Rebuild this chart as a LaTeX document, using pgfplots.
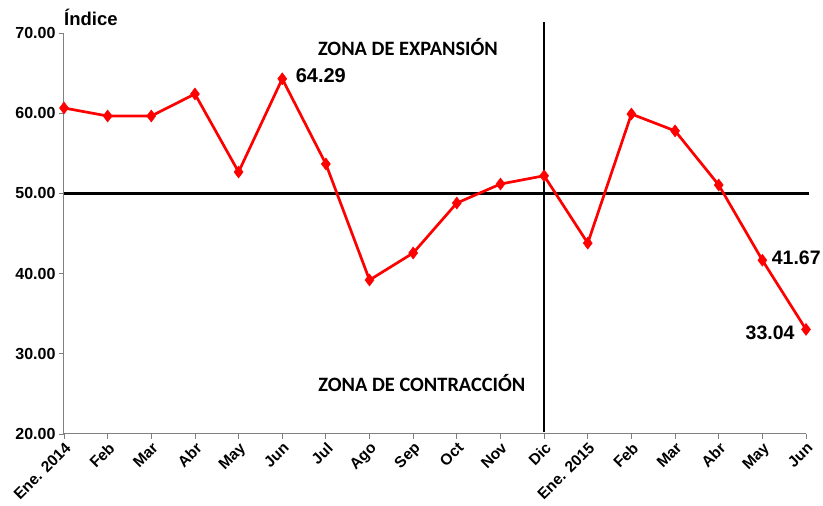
\documentclass[border=0pt]{standalone}
\usepackage{pgfplots}
\pgfplotsset{compat=1.18}
\usepackage{fontspec}
\setmainfont{Liberation Sans}
\newfontfamily\calibri{Carlito}
\begin{document}
\begin{tikzpicture}
\useasboundingbox (-64pt,-72pt) rectangle (759pt,434pt);
\begin{axis}[
  scale only axis, width=742pt, height=401pt,
  xmin=0, xmax=17, ymin=20, ymax=70,
  axis x line*=bottom, axis y line*=left,
  axis line style={draw=gray, line width=1pt},
  xtick={0,...,17},
  xticklabels={Ene. 2014,Feb,Mar,Abr,May,Jun,Jul,Ago,Sep,Oct,Nov,Dic,Ene. 2015,Feb,Mar,Abr,May,Jun},
  x tick label style={rotate=45, anchor=north east, font=\fontsize{15.5}{17}\selectfont\bfseries, inner sep=1.5pt},
  ytick={20,30,...,70},
  y tick label style={font=\fontsize{16}{18}\selectfont\bfseries},
  yticklabel style={/pgf/number format/.cd, fixed, fixed zerofill, precision=2, assume math mode=true},
  tick align=outside, major tick length=5pt,
  tick style={gray, line width=0.8pt},
  clip=false,
]
\addplot[black, line width=2.5pt] coordinates {(0,50) (17.07,50)};
\addplot[black, line width=1.5pt] coordinates {(11,20.2) (11,71.4)};
\addplot[red, line width=2.7pt, mark=diamond*, mark size=6pt, mark options={solid, fill=red, draw=red, line width=0.5pt}]
 coordinates {
 (0,60.65) (1,59.65) (2,59.65) (3,62.4) (4,52.67) (5,64.29) (6,53.67) (7,39.2) (8,42.57) (9,48.8) (10,51.17) (11,52.2)
 (12,43.8) (13,59.9) (14,57.8) (15,51.05) (16,41.67) (17,33.04)
 };
\node[anchor=west, font=\fontsize{20}{22}\selectfont\bfseries, xshift=10pt, yshift=3pt] at (axis cs:5,64.29) {64.29};
\node[anchor=west, font=\fontsize{19.5}{22}\selectfont\bfseries, xshift=6pt, yshift=2pt] at (axis cs:16,41.67) {41.67};
\node[anchor=east, font=\fontsize{19.5}{22}\selectfont\bfseries, xshift=-8pt, yshift=-3pt] at (axis cs:17,33.04) {33.04};
\node[font=\calibri\fontsize{20.4}{22}\selectfont\bfseries] at (axis cs:7.88,68.25) {ZONA DE EXPANSIÓN};
\node[font=\calibri\fontsize{20.4}{22}\selectfont\bfseries] at (axis cs:8.2,26.36) {ZONA DE CONTRACCIÓN};
\node[anchor=west, font=\fontsize{18.5}{20}\selectfont\bfseries, inner sep=0pt] at (axis cs:0,71.9) {Índice};
\end{axis}
\end{tikzpicture}
\end{document}
